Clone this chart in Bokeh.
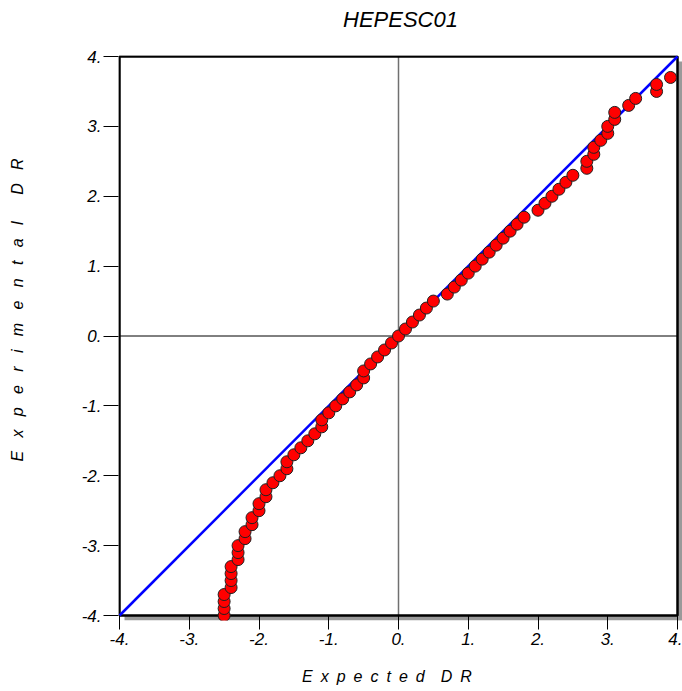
from bokeh.plotting import figure
from bokeh.models import Range1d, FixedTicker, LinearAxis
from bokeh.embed import file_html
from bokeh.resources import INLINE

# ---- data ----
expected_dr = [-2.5, -2.5, -2.5, -2.5, -2.4, -2.4, -2.4, -2.4, -2.3, -2.3,
               -2.3, -2.2, -2.2, -2.1, -2.1, -2.0, -2.0, -1.9, -1.9, -1.8,
               -1.7, -1.6, -1.6, -1.5, -1.4, -1.3, -1.2, -1.1, -1.1, -1.0,
               -0.9, -0.8, -0.7, -0.6, -0.5, -0.5, -0.4, -0.3, -0.2, -0.1,
               0.0, 0.1, 0.2, 0.3, 0.4, 0.5, 0.7, 0.8, 0.9, 1.0,
               1.1, 1.2, 1.3, 1.4, 1.5, 1.6, 1.7, 1.8, 2.0, 2.1,
               2.2, 2.3, 2.4, 2.5, 2.7, 2.7, 2.8, 2.8, 2.9, 3.0,
               3.0, 3.1, 3.1, 3.3, 3.4, 3.7, 3.7, 3.9]
experimental_dr = [-4.0, -3.9, -3.8, -3.7, -3.6, -3.5, -3.4, -3.3, -3.2, -3.1,
                   -3.0, -2.9, -2.8, -2.7, -2.6, -2.5, -2.4, -2.3, -2.2, -2.1,
                   -2.0, -1.9, -1.8, -1.7, -1.6, -1.5, -1.4, -1.3, -1.2, -1.1,
                   -1.0, -0.9, -0.8, -0.7, -0.6, -0.5, -0.4, -0.3, -0.2, -0.1,
                   0.0, 0.1, 0.2, 0.3, 0.4, 0.5, 0.6, 0.7, 0.8, 0.9,
                   1.0, 1.1, 1.2, 1.3, 1.4, 1.5, 1.6, 1.7, 1.8, 1.9,
                   2.0, 2.1, 2.2, 2.3, 2.4, 2.5, 2.6, 2.7, 2.8, 2.9,
                   3.0, 3.1, 3.2, 3.3, 3.4, 3.5, 3.6, 3.7]
tick_values = [-4, -3, -2, -1, 0, 1, 2, 3, 4]
tick_labels = ["-4.", "-3.", "-2.", "-1.", "0.", "1.", "2.", "3.", "4."]
ref_line = [-4, 4]

title_text = "HEPESC01"
XG = "\u2002"
YG = "\u2002\u2004"
# letter-spaced axis titles; the extra spacing at one end nudges them along
# the axis to where the reference has them
x_label = XG.join("Expected") + XG * 2 + XG.join("DR") + XG * 3 + "\u2009"
y_label = "\u2003" * 3 + "\u2002" + YG.join("Experimental") + YG * 2 + YG.join("DR")

FONT = "Liberation Sans"
lo, hi = min(tick_values), max(tick_values)

PXX = 69.75    # px per unit, x
PXY = 69.875   # px per unit, y
SH = 5         # shadow offset in px
x_range = Range1d(lo - 1 / PXX, hi + SH / PXX)
y_range = Range1d(lo - SH / PXY, hi + 1 / PXY)

p = figure(width=682, height=691, x_range=x_range, y_range=y_range,
           output_backend="svg", toolbar_location=None,
           min_border_left=118, min_border_right=0,
           min_border_top=55, min_border_bottom=71,
           background_fill_color="white", border_fill_color="white")
p.outline_line_color = None
p.xgrid.visible = False
p.ygrid.visible = False

for ax in (p.xaxis[0], p.yaxis[0]):
    ax.ticker = FixedTicker(ticks=tick_values)
    ax.major_label_overrides = {v: s for v, s in zip(tick_values, tick_labels)}
    ax.minor_tick_line_color = None
    ax.axis_line_color = None
    ax.major_tick_line_color = "black"
    ax.major_tick_line_width = 1
    ax.major_label_text_font = FONT
    ax.major_label_text_font_style = "italic"
    ax.major_label_text_font_size = "17px"
    ax.major_label_text_color = "black"
    ax.axis_label_text_font = FONT
    ax.axis_label_text_font_style = "italic"
    ax.axis_label_text_font_size = "16px"
    ax.axis_label_text_color = "black"

p.xaxis.major_tick_in = SH
p.xaxis.major_tick_out = 9
p.xaxis.major_label_standoff = 3
p.xaxis.axis_label = x_label
p.xaxis.axis_label_standoff = 20

p.yaxis.major_tick_in = 0
p.yaxis.major_tick_out = 15
p.yaxis.major_label_standoff = 2
p.yaxis.axis_label = y_label
p.yaxis.axis_label_standoff = 53

# chart title, centred over the frame
p.title.text = ""
top = LinearAxis(ticker=FixedTicker(ticks=[]), axis_label=title_text,
                 axis_label_standoff=24, axis_label_text_font=FONT,
                 axis_label_text_font_style="italic", axis_label_text_font_size="22px",
                 axis_label_text_color="black", major_tick_out=0, major_tick_in=0,
                 minor_tick_out=0, minor_tick_in=0, major_label_standoff=0,
                 axis_line_color=None, major_tick_line_color=None,
                 minor_tick_line_color=None)
p.add_layout(top, "above")

# drop shadow of the frame (offset by SH px)
dx, dy = SH / PXX, SH / PXY
p.quad(left=[hi, lo + dx], right=[hi + dx, hi + dx],
       bottom=[lo - dy, lo - dy], top=[hi - dy, lo],
       fill_color="#9a9a9a", line_color=None)

# zero lines
p.segment(x0=[0], y0=[lo], x1=[0], y1=[hi], line_color="#707070", line_width=1.5)
p.segment(x0=[lo], y0=[0], x1=[hi], y1=[0], line_color="black", line_width=1)

# frame border
p.line(x=[lo, hi, hi, lo, lo], y=[lo, lo, hi, hi, lo], line_color="black", line_width=2.5)

# identity line
p.line(x=ref_line, y=ref_line, line_color="#0000ff", line_width=2.5)

# points
p.scatter(x=expected_dr, y=experimental_dr, size=12, marker="circle",
          fill_color="#ff0000", line_color="#202020", line_width=1)

open("out.html", "w").write(file_html(p, INLINE))
